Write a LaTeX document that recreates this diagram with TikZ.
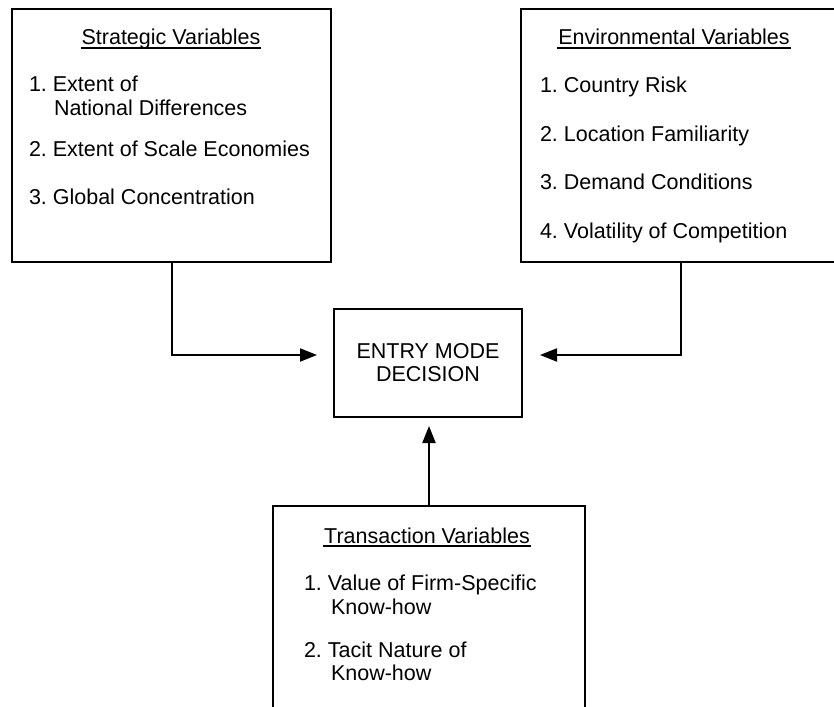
\documentclass[tikz,border=0pt]{standalone}
\usepackage{fontspec}
\setmainfont{Liberation Sans}
\usetikzlibrary{arrows.meta}
\frenchspacing

\begin{document}
\begin{tikzpicture}[x=1pt, y=-1pt, line width=2pt,
		font=\fontsize{21.5}{23}\selectfont,
		box/.style={draw, rectangle, inner sep=0pt},
		head/.style={anchor=base, inner sep=0pt},
		item/.style={anchor=base west, inner sep=0pt},
		uline/.style={line width=1.5pt},
		flow/.style={-{Triangle[length=17pt, width=13pt]}}]
			\clip (0,0) rectangle (834,706);
			\node[box, minimum width=319pt, minimum height=253pt] (S)at(171.5, 135.5) {};
			\node[box, minimum width=319pt, minimum height=253pt] (E)at(680.5, 135.5) {};
			\node[box, minimum width=188pt, minimum height=108pt, align=center] (M)at(428, 363) {ENTRY MODE\\DECISION};
			\node[box, minimum width=312pt, minimum height=253pt] (T)at(429, 632.5) {};

			\node[head] (S0)at(171, 45) {Strategic Variables};
			\node[item] (S1)at(28, 92) {1. Extent of};
			\node[item] (S1b)at(53, 116) {National Differences};
			\node[item] (S2)at(28, 156) {2. Extent of Scale Economies};
			\node[item] (S3)at(28, 204) {3. Global Concentration};

			\node[head] (E0)at(674, 45) {Environmental Variables};
			\node[item] (E1)at(539, 93) {1. Country Risk};
			\node[item] (E2)at(539, 141) {2. Location Familiarity};
			\node[item] (E3)at(539, 189) {3. Demand Conditions};
			\node[item] (E4)at(539, 238) {4. Volatility of Competition};

			\node[head] (T0)at(427, 543) {Transaction Variables};
			\node[item] (T1)at(303, 590) {1. Value of Firm-Specific};
			\node[item] (T1b)at(330, 614) {Know-how};
			\node[item] (T2)at(303, 657) {2. Tacit Nature of};
			\node[item] (T2b)at(330, 680) {Know-how};

			\draw[uline] ([yshift=-3pt]S0.base west) -- ([yshift=-3pt]S0.base east);
			\draw[uline] ([yshift=-3pt]E0.base west) -- ([yshift=-3pt]E0.base east);
			\draw[uline] ([yshift=-3pt]T0.base west) -- ([yshift=-3pt]T0.base east);

			\draw[flow, shorten >=16pt] (S.south) |- ([yshift=8pt]M.west);
			\draw[flow, shorten >=17pt] (E.south) |- ([yshift=8pt]M.east);
			\draw[flow, shorten >=8pt] (T.north) -- (T.north |- M.south);
\end{tikzpicture}
\end{document}
